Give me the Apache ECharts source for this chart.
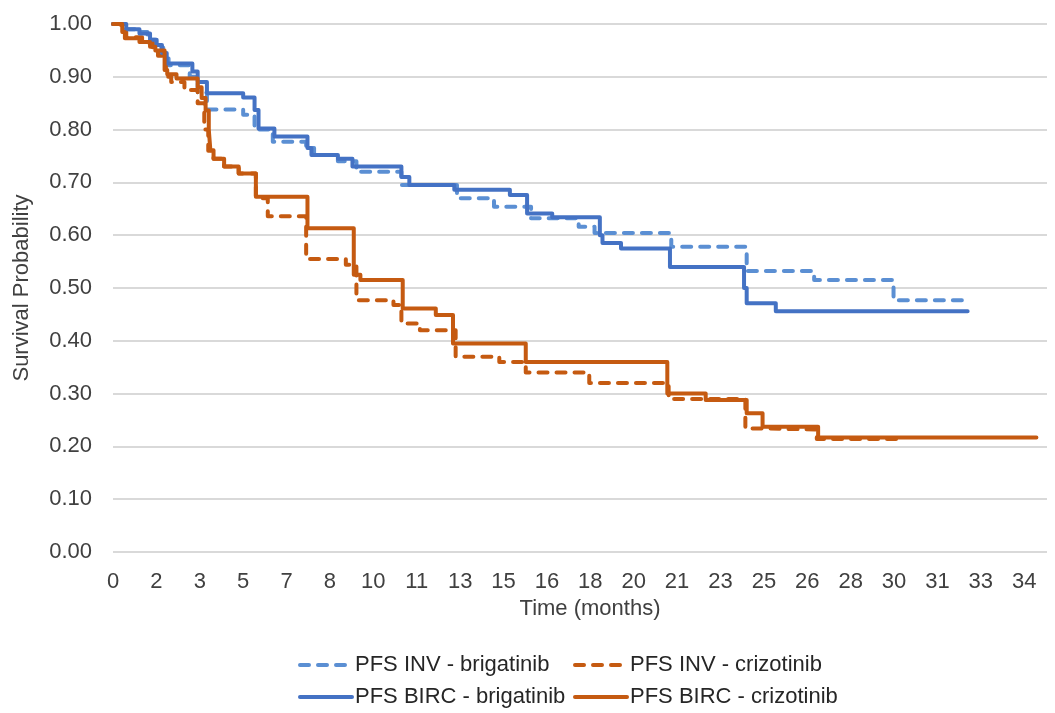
<!DOCTYPE html>
<html>
<head>
<meta charset="utf-8">
<script src="https://cdn.jsdelivr.net/npm/echarts@6/dist/echarts.min.js"></script>
<style>
  html, body { margin: 0; padding: 0; background: #ffffff; }
  #chart { width: 1055px; height: 713px; }
</style>
</head>
<body>
<div id="chart"></div>
<script>
// Kaplan-Meier progression-free survival, step curves (time in months, survival probability)
const invBrigT = [0, 0.4, 0.9, 1.3, 1.6, 1.9, 2.1, 2.9, 3.2, 3.55, 4.92, 5.35, 6.04, 7.3, 7.6, 8.5, 9.2, 10.9, 13.0, 14.4, 15.8, 17.6, 18.2, 21.1, 23.95, 26.5, 29.5, 32.2];
const invBrigS = [1.0, 0.99, 0.985, 0.97, 0.955, 0.935, 0.922, 0.90, 0.87, 0.838, 0.828, 0.80, 0.777, 0.765, 0.752, 0.74, 0.72, 0.695, 0.670, 0.654, 0.632, 0.616, 0.604, 0.578, 0.532, 0.515, 0.477, 0.477];

const invCrizT = [0, 0.3, 0.5, 1.1, 1.5, 1.7, 2.0, 2.2, 2.7, 3.2, 3.45, 3.6, 3.8, 4.2, 4.75, 5.4, 5.85, 7.3, 8.8, 9.2, 10.6, 10.9, 11.6, 12.95, 14.6, 15.6, 18.0, 21.0, 23.9, 24.6, 26.6, 29.6];
const invCrizS = [1.0, 0.985, 0.975, 0.965, 0.95, 0.94, 0.90, 0.89, 0.875, 0.85, 0.80, 0.76, 0.745, 0.73, 0.717, 0.67, 0.636, 0.555, 0.544, 0.477, 0.468, 0.433, 0.42, 0.37, 0.36, 0.34, 0.32, 0.29, 0.234, 0.232, 0.214, 0.214];

const bircBrigT = [0, 0.5, 1.0, 1.4, 1.65, 1.85, 2.03, 3.0, 3.2, 3.55, 4.92, 5.35, 5.5, 6.1, 7.35, 7.5, 8.5, 9.05, 10.9, 11.2, 12.9, 15.0, 15.65, 16.6, 18.4, 18.5, 19.2, 21.05, 23.85, 23.95, 25.05, 32.3];
const bircBrigS = [1.0, 0.99, 0.982, 0.97, 0.96, 0.945, 0.925, 0.91, 0.89, 0.869, 0.861, 0.837, 0.802, 0.787, 0.765, 0.752, 0.745, 0.73, 0.71, 0.695, 0.686, 0.676, 0.641, 0.634, 0.60, 0.585, 0.575, 0.54, 0.50, 0.471, 0.456, 0.456];

const bircCrizT = [0, 0.35, 0.45, 1.0, 1.4, 1.6, 1.95, 2.05, 2.4, 3.2, 3.35, 3.5, 3.62, 3.68, 3.8, 4.2, 4.75, 5.4, 7.35, 9.1, 9.35, 10.95, 12.2, 12.85, 15.6, 20.95, 22.4, 23.95, 24.55, 26.65, 34.9];
const bircCrizS = [1.0, 0.985, 0.973, 0.966, 0.957, 0.95, 0.913, 0.905, 0.897, 0.88, 0.86, 0.836, 0.80, 0.761, 0.745, 0.73, 0.717, 0.673, 0.613, 0.525, 0.515, 0.461, 0.449, 0.395, 0.36, 0.30, 0.288, 0.263, 0.237, 0.217, 0.217];

const seriesNames = ['PFS INV - brigatinib', 'PFS INV - crizotinib', 'PFS BIRC - brigatinib', 'PFS BIRC - crizotinib'];

// x-axis ticks every 1.64 months, shown rounded to whole months
const xTickStep = 1.64;
const xMax = 35.3;

const BLUE_DASH = '#5b8fd3';
const BLUE = '#4472c4';
const ORANGE = '#c55a11';
const FONT = "'Liberation Sans', Arial, sans-serif";
const TEXT = '#404040';
const FS = 22;

function pairs(t, s) { return t.map((v, i) => [v, s[i]]); }

function kmSeries(name, t, s, color, dashed) {
  return {
    name: name,
    type: 'line',
    step: 'end',
    data: pairs(t, s),
    showSymbol: false,
    symbol: 'none',
    lineStyle: {
      color: color,
      width: 4,
      type: dashed ? [9, 9] : 'solid',
      cap: 'round',
      join: 'round'
    },
    itemStyle: { color: color },
    emphasis: { disabled: true },
    animation: false
  };
}

// one legend box per entry, laid out as two rows of two columns
function legendEntry(name, left, top) {
  return {
    data: [name],
    left: left, top: top,
    padding: 0,
    itemWidth: 52, itemHeight: 14,
    itemStyle: { opacity: 0 },
    lineStyle: { width: 4, cap: 'round' },
    textStyle: { fontFamily: FONT, fontSize: FS, color: '#262626', padding: [0, 0, 0, -2] },
    selectedMode: false
  };
}

const chart = echarts.init(document.getElementById('chart'), null, { renderer: 'canvas' });

chart.setOption({
  backgroundColor: '#ffffff',
  animation: false,
  grid: { left: 113, right: 8, top: 24, bottom: 161, containLabel: false },
  xAxis: {
    type: 'value',
    min: 0,
    max: xMax,
    interval: xTickStep,
    name: 'Time (months)',
    nameLocation: 'middle',
    nameGap: 44,
    nameTextStyle: { fontFamily: FONT, fontSize: FS, color: TEXT, padding: [0, 0, 0, 20] },
    axisLine: { show: false },
    axisTick: { show: false },
    splitLine: { show: false },
    axisLabel: {
      fontFamily: FONT, fontSize: FS, color: TEXT, margin: 19,
      showMaxLabel: false,
      formatter: function (v) {
        const k = v / xTickStep;
        return Math.abs(k - Math.round(k)) < 1e-6 ? String(Math.round(v)) : '';
      }
    }
  },
  yAxis: {
    type: 'value',
    min: 0,
    max: 1,
    interval: 0.1,
    name: 'Survival Probability',
    nameLocation: 'middle',
    nameGap: 80,
    nameRotate: 90,
    nameTextStyle: { fontFamily: FONT, fontSize: FS, color: TEXT },
    axisLine: { show: false },
    axisTick: { show: false },
    splitLine: { show: true, lineStyle: { color: '#d9d9d9', width: 2 } },
    axisLabel: {
      fontFamily: FONT, fontSize: FS, color: TEXT, margin: 21,
      formatter: function (v) { return v.toFixed(2); }
    }
  },
  legend: [
    legendEntry(seriesNames[0], 298, 654),
    legendEntry(seriesNames[1], 573, 654),
    legendEntry(seriesNames[2], 298, 686),
    legendEntry(seriesNames[3], 573, 686)
  ],
  series: [
    kmSeries(seriesNames[0], invBrigT, invBrigS, BLUE_DASH, true),
    kmSeries(seriesNames[1], invCrizT, invCrizS, ORANGE, true),
    kmSeries(seriesNames[2], bircBrigT, bircBrigS, BLUE, false),
    kmSeries(seriesNames[3], bircCrizT, bircCrizS, ORANGE, false)
  ]
});
</script>
</body>
</html>
